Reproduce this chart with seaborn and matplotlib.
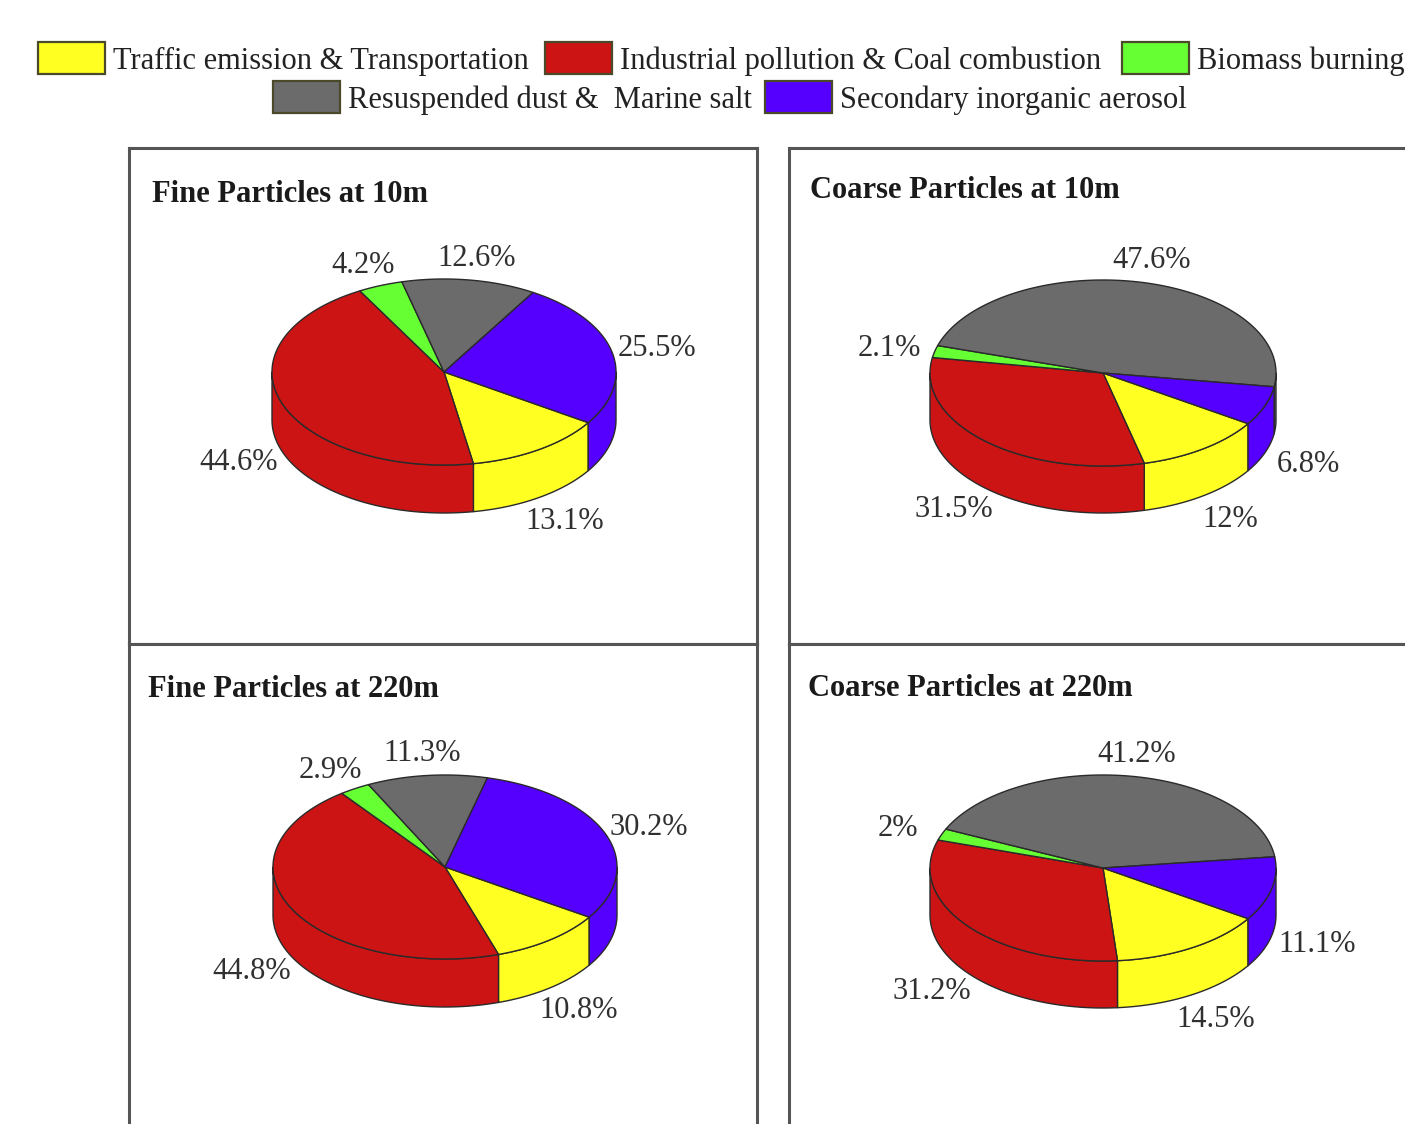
import numpy as np
import matplotlib
matplotlib.use("Agg")
import matplotlib.pyplot as plt
import seaborn as sns
from matplotlib.patches import Polygon, Rectangle

# Source categories (legend order = slice order, clockwise)
sources = [
    "Traffic emission & Transportation",
    "Industrial pollution & Coal combustion",
    "Biomass burning",
    "Resuspended dust &  Marine salt",
    "Secondary inorganic aerosol",
]

# Source contributions (%)
fine_10m = [13.1, 44.6, 4.2, 12.6, 25.5]
coarse_10m = [12, 31.5, 2.1, 47.6, 6.8]
fine_220m = [10.8, 44.8, 2.9, 11.3, 30.2]
coarse_220m = [14.5, 31.2, 2, 41.2, 11.1]

panel_titles = [
    "Fine Particles at 10m",
    "Coarse Particles at 10m",
    "Fine Particles at 220m",
    "Coarse Particles at 220m",
]

sns.set_theme(style="white")
plt.rcParams["font.family"] = ["Liberation Serif", "DejaVu Serif"]

palette = sns.color_palette(["#FFFF22", "#CC1414", "#66FF33", "#6B6B6B", "#5500FF"])
EDGE = "#2a2a2a"
TXT = "#303030"
FS = 22
DY = 3  # baseline nudge so digit-only strings sit visually centred

W, H = 1405, 1124
fig = plt.figure(figsize=(W / 100, H / 100), dpi=100)


def add_box(x0, y0, x1, y1):
    """Axes occupying a pixel box, with data coordinates in figure pixels."""
    ax = fig.add_axes([x0 / W, 1 - y1 / H, (x1 - x0) / W, (y1 - y0) / H])
    ax.set_xlim(x0, x1)
    ax.set_ylim(y1, y0)
    ax.set_xticks([])
    ax.set_yticks([])
    for s in ax.spines.values():
        s.set_color("#555555")
        s.set_linewidth(2.2)
    ax.set_facecolor("white")
    return ax


def pie3d(ax, values, cx, cy, rx, ry, depth, start=-33.0, k=1.27):
    v = np.asarray(values, float)
    sweep = 360.0 * v / v.sum()
    ends = start - np.cumsum(sweep)
    starts = ends + sweep

    def pts(t, dz=0.0):
        t = np.radians(t)
        return np.column_stack([cx + rx * np.cos(t), cy - ry * np.sin(t) + dz])

    # visible front walls
    for a0, a1, c in zip(starts, ends, palette):
        for base in (-720.0, -360.0, 0.0):
            lo, hi = max(a1, base - 180.0), min(a0, base)
            if hi > lo:
                t = np.linspace(lo, hi, 120)
                poly = np.vstack([pts(t), pts(t[::-1], depth)])
                ax.add_patch(Polygon(poly, closed=True, fc=c, ec=EDGE, lw=1.0,
                                     joinstyle="round"))
    # top faces
    for a0, a1, c in zip(starts, ends, palette):
        t = np.linspace(a1, a0, 240)
        poly = np.vstack([[cx, cy], pts(t)])
        ax.add_patch(Polygon(poly, closed=True, fc=c, ec=EDGE, lw=1.0,
                             joinstyle="round"))
    # percentage labels
    for a0, a1, val in zip(starts, ends, v):
        mid = np.radians((a0 + a1) / 2)
        s, co = np.sin(mid), np.cos(mid)
        wraps_front = (a1 <= -90 <= a0) or (a1 <= -450 <= a0)
        if wraps_front:
            s = -abs(s)
        x = cx + k * rx * co
        y = cy - k * ry * s + (depth if s < 0 else 0)
        ax.text(x, y + DY, f"{val:g}%", ha="center", va="center", fontsize=FS,
                color=TXT)


# panel boxes (right column and bottom row run past the figure edge)
boxes = [
    (129, 148, 757, 644),
    (789, 148, 1425, 644),
    (129, 644, 757, 1145),
    (789, 644, 1425, 1145),
]
title_pos = [(152, 192), (810, 187), (148, 686), (808, 685)]
geometry = [
    (444, 372, 172, 93, 48),
    (1103, 373, 173, 93, 47),
    (445, 867, 172, 92, 48),
    (1103, 868, 173, 93, 47),
]
datasets = [fine_10m, coarse_10m, fine_220m, coarse_220m]

for box, title, tpos, geo, data in zip(boxes, panel_titles, title_pos, geometry, datasets):
    ax = add_box(*box)
    ax.text(tpos[0], tpos[1] + DY, title, ha="left", va="center", fontsize=FS,
            fontweight="bold", color="#1a1a1a")
    pie3d(ax, data, *geo)

# legend across the top
leg = fig.add_axes([0, 0, 1, 1], zorder=-1)
leg.set_xlim(0, W)
leg.set_ylim(H, 0)
leg.axis("off")
swatches = [
    (38, 42), (545, 42), (1122, 42),
    (273, 81), (765, 81),
]
for (sx, sy), c, name in zip(swatches, palette, sources):
    leg.add_patch(Rectangle((sx, sy), 67, 32, fc=c, ec="#4a4a2a", lw=1.6))
    leg.text(sx + 75, sy + 16 + DY, name, ha="left", va="center", fontsize=FS,
             color="#222222")

fig.savefig("out.png", dpi=100, facecolor="white")
